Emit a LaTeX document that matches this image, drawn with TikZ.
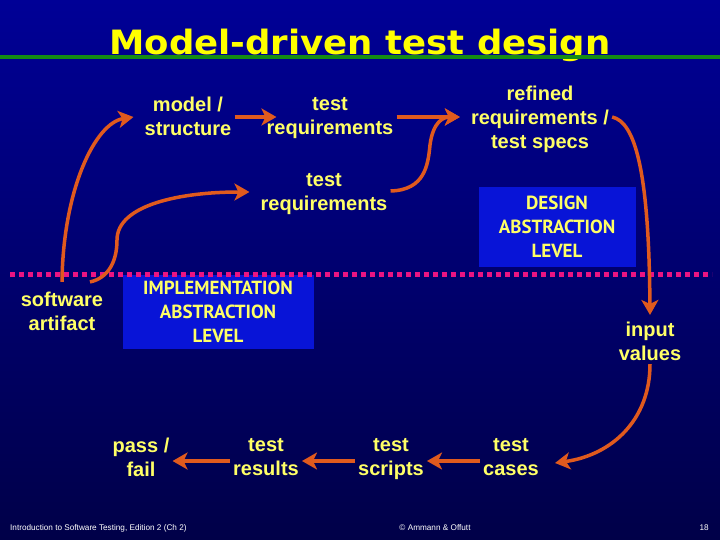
\documentclass[tikz,border=0pt]{standalone}
\usepackage{fontspec}
\setmainfont{Liberation Sans}
\newfontfamily\titrefont[FakeStretch=1.06]{DejaVu Sans}
\newfontfamily\niveaufont{PT Sans}
\usetikzlibrary{arrows.meta}
\definecolor{fondhaut}{RGB}{0,0,150}
\definecolor{fondbas}{RGB}{0,0,72}
\definecolor{jaune}{RGB}{255,255,102}
\definecolor{jaunetitre}{RGB}{255,255,0}
\definecolor{rouille}{RGB}{224,90,30}
\definecolor{rose}{RGB}{235,20,130}
\definecolor{vert}{RGB}{20,140,20}
\definecolor{boite}{RGB}{8,20,215}

\begin{document}
\begin{tikzpicture}[x=1pt, y=-1pt,
    etiq/.style={text=jaune, font=\bfseries\fontsize{20}{24}\selectfont, align=center, inner sep=3pt,
                 execute at begin node=\strut, execute at end node=\strut},
    niveau/.style={fill=boite, text=jaune, font=\niveaufont\bfseries\fontsize{19}{24}\selectfont, align=center},
    fleche/.style={draw=rouille, line width=3.5pt, -{Stealth[length=15pt, width=17pt, inset=4pt]}},
    pied/.style={text=white, font=\fontsize{8.2}{10}\selectfont, inner sep=0pt}
]
    \shade[top color=fondhaut, bottom color=fondbas] (0,0) rectangle (720,540);
    \useasboundingbox (0,0) rectangle (720,540);

    \node[text=jaunetitre, font=\titrefont\bfseries\fontsize{33.5}{40}\selectfont, anchor=base] (titre) at (360,55) {Model-driven test design};
    \draw[vert, line width=4.5pt] (0,57) -- (720,57);

    \node[niveau, minimum width=157pt, minimum height=79pt] (conception) at (557,227) {DESIGN\\ABSTRACTION\\LEVEL};
    \node[niveau, minimum width=191pt, minimum height=74pt] (implem) at (218,312) {IMPLEMENTATION\\ABSTRACTION\\LEVEL};
    \draw[rose, line width=5pt, dash pattern=on 5pt off 4pt] (10,274) -- (712,274);

    \node[etiq] (modele) at (188,120) {model /\\structure};
    \node[etiq] (exig) at (330,120) {test\\requirements};
    \node[etiq] (raffine) at (540,121) {refined\\requirements /\\test specs};
    \node[etiq] (exigb) at (324,196) {test\\requirements};
    \node[etiq] (logiciel) at (62,315) {software\\artifact};
    \node[etiq] (entrees) at (650,345) {input\\values};
    \node[etiq] (verdict) at (141,461) {pass /\\fail};
    \node[etiq] (resultats) at (266,461) {test\\results};
    \node[etiq] (scripts) at (391,461) {test\\scripts};
    \node[etiq] (cas) at (511,461) {test\\cases};

    \draw[fleche] ([yshift=7pt]logiciel.north) .. controls (63,190) and (95,123) .. ([xshift=-8pt, yshift=3pt]modele.west);
    \draw[fleche] ([yshift=3pt]modele.east) -- ([xshift=13pt, yshift=3pt]exig.west);
    \draw[fleche] ([yshift=3pt]exig.east) -- ([xshift=-8pt, yshift=4pt]raffine.west);
    \draw[fleche] ([yshift=5pt]exigb.east) .. controls (425,190) and (428,165) .. (430,145) .. controls (433,122) and (443,117) .. ([xshift=-8pt, yshift=4pt]raffine.west);
    \draw[fleche] ([xshift=28pt, yshift=7pt]logiciel.north) .. controls (108,278) and (117,262) .. (117,240) .. controls (117,205) and (180,192) .. ([xshift=-8pt, yshift=4pt]exigb.west);
    \draw[fleche] ([yshift=4pt]raffine.east) .. controls (635,122) and (649,170) .. ([yshift=4pt]entrees.north);
    \draw[fleche] ([yshift=7pt]entrees.south) .. controls (650,420) and (612,455) .. ([xshift=13pt, yshift=-2pt]cas.east);
    \draw[fleche] (cas.west) -- (scripts.east);
    \draw[fleche] (scripts.west) -- (resultats.east);
    \draw[fleche] (resultats.west) -- (verdict.east);

    \node[pied, anchor=west] (cours) at (10,528) {Introduction to Software Testing, Edition 2 (Ch 2)};
    \node[pied] (auteurs) at (435,528) {\textcopyright\ Ammann \& Offutt};
    \node[pied, anchor=east] (page) at (709,528) {18};
\end{tikzpicture}
\end{document}
